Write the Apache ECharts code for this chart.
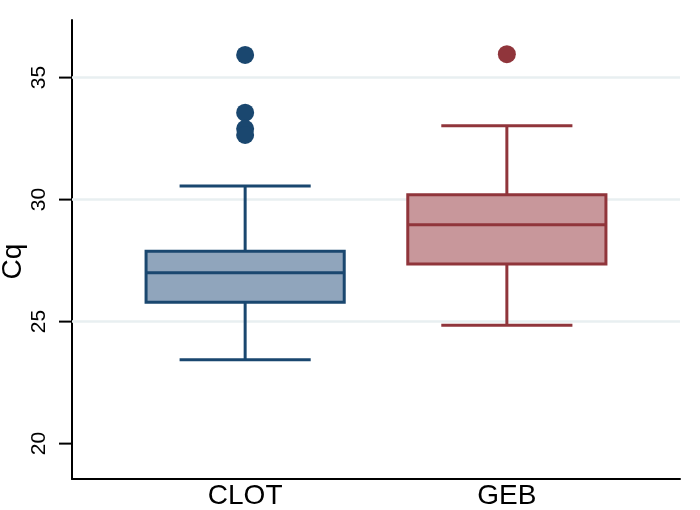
<!DOCTYPE html>
<html>
<head>
<meta charset="utf-8">
<script src="https://cdn.jsdelivr.net/npm/echarts@6/dist/echarts.min.js"></script>
<style>html,body{margin:0;padding:0;background:#fff;}#c{width:700px;height:510px;}</style>
</head>
<body>
<div id="c"></div>
<script>
// ---- data ----
const categories = ['CLOT', 'GEB'];
const lowerWhisker = [23.44, 24.85];
const q1 = [25.79, 27.36];
const median = [27.0, 28.97];
const q3 = [27.88, 30.2];
const upperWhisker = [30.56, 33.03];
const outliersCLOT = [35.93, 33.56, 32.9, 32.65];
const outliersGEB = [35.96];
const yTicks = [20, 25, 30, 35];
const gridValues = [25, 30, 35];
const yMin = 18.55, yMax = 37.36;
const xMin = -0.6616, xMax = 1.6616;

// ---- styles ----
const lineColors = ['#1a476f', '#90353b'];
const fillColors = ['#90a5bc', '#c8979b'];
const FONT = '"Liberation Sans", Arial, Helvetica, sans-serif';

const boxData = categories.map((c, i) => [i, lowerWhisker[i], q1[i], median[i], q3[i], upperWhisker[i]]);
const outlierSets = [outliersCLOT, outliersGEB];

const TOP = 20, BOTTOM = 31, LEFT = 72, RIGHT = 20, TICK_LEN = 13;

const chart = echarts.init(document.getElementById('c'), null, {renderer: 'canvas'});

function renderBox(params, api) {
  const x = api.value(0);
  const lo = api.coord([x, api.value(1)]);
  const b1 = api.coord([x, api.value(2)]);
  const md = api.coord([x, api.value(3)]);
  const b3 = api.coord([x, api.value(4)]);
  const hi = api.coord([x, api.value(5)]);
  const unit = api.size([1, 0])[0];
  const hb = unit * 0.3786;
  const hc = unit * 0.2505;
  const i = params.dataIndex;
  const st = {stroke: lineColors[i], lineWidth: 3, fill: null};
  const cx = lo[0];
  return {
    type: 'group',
    children: [
      {type: 'line', shape: {x1: cx, y1: lo[1], x2: cx, y2: b1[1]}, style: st},
      {type: 'line', shape: {x1: cx, y1: b3[1], x2: cx, y2: hi[1]}, style: st},
      {type: 'line', shape: {x1: cx - hc, y1: lo[1], x2: cx + hc, y2: lo[1]}, style: st},
      {type: 'line', shape: {x1: cx - hc, y1: hi[1], x2: cx + hc, y2: hi[1]}, style: st},
      {type: 'rect', shape: {x: cx - hb, y: b3[1], width: 2 * hb, height: b1[1] - b3[1]},
        style: {fill: fillColors[i], stroke: lineColors[i], lineWidth: 3}},
      {type: 'line', shape: {x1: cx - hb, y1: md[1], x2: cx + hb, y2: md[1]}, style: st}
    ]
  };
}

const scatterData = [];
outlierSets.forEach((arr, i) => arr.forEach(v => scatterData.push({value: [i, v], itemStyle: {color: lineColors[i], opacity: 1}})));

chart.setOption({
  animation: false,
  backgroundColor: '#ffffff',
  grid: {left: LEFT, right: RIGHT, top: TOP, bottom: BOTTOM, containLabel: false, outerBoundsMode: 'none'},
  xAxis: {
    type: 'value', min: xMin, max: xMax,
    axisLine: {show: true, onZero: false, lineStyle: {color: '#000', width: 2}},
    axisTick: {show: false},
    splitLine: {show: false},
    axisLabel: {
      customValues: [0, 1], margin: 3,
      formatter: v => categories[Math.round(v)] || '',
      color: '#000', fontSize: 28, fontFamily: FONT
    }
  },
  yAxis: {
    type: 'value', min: yMin, max: yMax,
    name: 'Cq', nameLocation: 'middle', nameRotate: 90, nameGap: 45, nameMoveOverlap: false,
    nameTextStyle: {color: '#000', fontSize: 28, fontFamily: FONT, padding: [0, 24, 0, 0]},
    axisLine: {show: true, onZero: false, lineStyle: {color: '#000', width: 2}},
    axisTick: {show: false},
    splitLine: {show: false},
    axisLabel: {customValues: yTicks, rotate: 90, margin: 22, color: '#000', fontSize: 21, fontFamily: FONT}
  },
  series: [
    {
      type: 'line', data: [], z: 1, silent: true,
      markLine: {
        silent: true, symbol: 'none', z: 1, label: {show: false},
        lineStyle: {color: '#e8eff1', width: 2.5, type: 'solid'},
        data: gridValues.map(v => ({yAxis: v}))
      }
    },
    {type: 'custom', z: 10, renderItem: renderBox, data: boxData, encode: {x: 0, y: [1, 2, 3, 4, 5]}},
    {type: 'scatter', z: 11, symbol: 'circle', symbolSize: 18, data: scatterData, itemStyle: {opacity: 1}}
  ]
});

// outward y-axis tick marks, positioned through the chart's own y scale
const tickGraphics = yTicks.map(v => {
  const p = chart.convertToPixel({xAxisIndex: 0, yAxisIndex: 0}, [xMin, v]);
  return {
    type: 'line', z: 100, silent: true,
    shape: {x1: p[0] - TICK_LEN, y1: p[1], x2: p[0], y2: p[1]},
    style: {stroke: '#000000', lineWidth: 2}
  };
});
chart.setOption({graphic: {elements: tickGraphics}});
</script>
</body>
</html>
